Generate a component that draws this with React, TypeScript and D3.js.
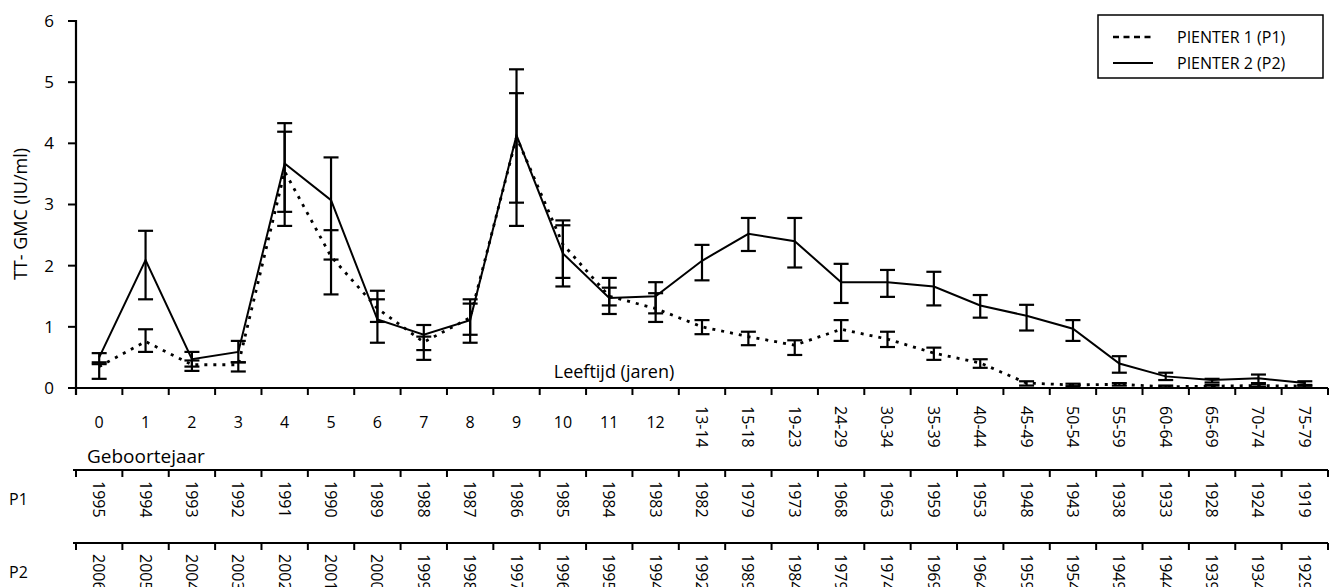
import * as d3 from 'd3';

// Leeftijdsgroepen (x-as)
const ageLabels = ["0", "1", "2", "3", "4", "5", "6", "7", "8", "9", "10", "11", "12",
    "13-14", "15-18", "19-23", "24-29", "30-34", "35-39", "40-44", "45-49",
    "50-54", "55-59", "60-64", "65-69", "70-74", "75-79"];

// Geboortejaar per rij
const birthP1 = [1995, 1994, 1993, 1992, 1991, 1990, 1989, 1988, 1987, 1986, 1985, 1984, 1983,
    1982, 1979, 1973, 1968, 1963, 1959, 1953, 1948, 1943, 1938, 1933, 1928, 1924, 1919];
const birthP2 = [2006, 2005, 2004, 2003, 2002, 2001, 2000, 1999, 1998, 1997, 1996, 1995, 1994,
    1992, 1989, 1984, 1979, 1974, 1969, 1964, 1959, 1954, 1949, 1944, 1939, 1934, 1929];

// PIENTER 1: GMC en betrouwbaarheidsinterval
const p1Gmc = [0.35, 0.76, 0.38, 0.38, 3.54, 2.15, 1.3, 0.75, 1.15, 4.1, 2.35, 1.5, 1.3,
    1.0, 0.84, 0.7, 0.96, 0.8, 0.57, 0.41, 0.08, 0.05, 0.06, 0.02, 0.03, 0.04, 0.03];
const p1Low = [0.15, 0.59, 0.28, 0.27, 2.88, 1.53, 1.08, 0.62, 0.87, 3.03, 1.8, 1.35, 1.08,
    0.88, 0.7, 0.54, 0.77, 0.67, 0.46, 0.33, 0.04, 0.03, 0.04, 0.01, 0.01, 0.02, 0.01];
const p1High = [0.42, 0.96, 0.45, 0.42, 4.19, 2.58, 1.45, 0.84, 1.38, 4.82, 2.66, 1.64, 1.55,
    1.11, 0.92, 0.78, 1.11, 0.92, 0.66, 0.47, 0.11, 0.07, 0.08, 0.04, 0.05, 0.06, 0.05];

// PIENTER 2
const p2Gmc = [0.5, 2.09, 0.47, 0.59, 3.67, 3.07, 1.12, 0.87, 1.11, 4.13, 2.2, 1.47, 1.5,
    2.08, 2.52, 2.4, 1.73, 1.73, 1.66, 1.35, 1.18, 0.97, 0.4, 0.19, 0.13, 0.16, 0.08];
const p2Low = [0.39, 1.45, 0.35, 0.42, 2.65, 2.1, 0.74, 0.46, 0.74, 2.65, 1.66, 1.21, 1.22,
    1.76, 2.24, 1.97, 1.39, 1.49, 1.35, 1.15, 0.94, 0.77, 0.25, 0.13, 0.09, 0.08, 0.04];
const p2High = [0.57, 2.57, 0.59, 0.77, 4.33, 3.77, 1.59, 1.03, 1.45, 5.21, 2.74, 1.8, 1.73,
    2.34, 2.78, 2.78, 2.03, 1.93, 1.9, 1.52, 1.36, 1.11, 0.52, 0.25, 0.15, 0.22, 0.11];

const yTicks = [0, 1, 2, 3, 4, 5, 6];

const FONT = "'Open Sans', 'DejaVu Sans', sans-serif";

function App() {
    const width = 1333;
    const height = 587;
    const left = 76;
    const right = 1328;
    const axisY = 388;
    const row1Y = 470;
    const row2Y = 543;

    const x = d3.scaleBand<string>()
        .domain(ageLabels)
        .range([left, right])
        .padding(0);

    const y = d3.scaleLinear()
        .domain([0, 6])
        .range([axisY, 21]);

    const cx = (i: number) => (x(ageLabels[i]) as number) + x.bandwidth() / 2;

    const line = d3.line<number>()
        .x((d, i) => cx(i))
        .y(d => y(d));

    const boundaries = ageLabels.map(a => x(a) as number).concat([right]);

    const errorBars = (low: number[], high: number[], key: string) => low.map((lo, i) => {
        const hi = high[i];
        const xc = cx(i);
        return (
            <g key={key + i}>
                <line x1={xc} x2={xc} y1={y(lo)} y2={y(hi)} stroke="#000" strokeWidth={2.2} />
                <line x1={xc - 7.5} x2={xc + 7.5} y1={y(lo)} y2={y(lo)} stroke="#000" strokeWidth={2.2} />
                <line x1={xc - 7.5} x2={xc + 7.5} y1={y(hi)} y2={y(hi)} stroke="#000" strokeWidth={2.2} />
            </g>
        );
    });

    const yearRow = (years: number[], rowY: number, key: string) => (
        <g key={key}>
            <line x1={73} x2={right} y1={rowY} y2={rowY} stroke="#000" strokeWidth={2.2} />
            {boundaries.map((b, i) => (
                <line key={key + "t" + i} x1={b} x2={b} y1={rowY} y2={rowY + 7} stroke="#000" strokeWidth={2} />
            ))}
            {years.map((yr, i) => (
                <text key={key + "l" + i}
                    transform={`translate(${cx(i) - 6},${rowY + 11}) rotate(90)`}
                    fontSize={16} fontFamily={FONT} fill="#000">{yr}</text>
            ))}
        </g>
    );

    return (
        <svg width={width} height={height} style={{ position: 'absolute', left: 0, top: 0, background: '#fff' }}>
            {/* y-as */}
            <line x1={left} x2={left} y1={20} y2={axisY + 7} stroke="#000" strokeWidth={2.2} />
            {yTicks.map(t => (
                <g key={"yt" + t}>
                    <line x1={68} x2={left} y1={y(t)} y2={y(t)} stroke="#000" strokeWidth={2} />
                    <text x={49} y={y(t)} dy="0.35em" textAnchor="middle" fontSize={17}
                        fontFamily={FONT} fill="#000">{t}</text>
                </g>
            ))}
            <text transform={`translate(27,${214}) rotate(-90)`} textAnchor="middle" fontSize={18}
                fontFamily={FONT} fill="#000">TT- GMC (IU/ml)</text>

            {/* x-as leeftijd */}
            <line x1={68} x2={right} y1={axisY} y2={axisY} stroke="#000" strokeWidth={2.2} />
            {boundaries.map((b, i) => (
                <line key={"xt" + i} x1={b} x2={b} y1={axisY} y2={axisY + 7} stroke="#000" strokeWidth={2} />
            ))}
            {ageLabels.map((a, i) => i <= 12 ? (
                <text key={"xl" + i} x={cx(i)} y={422} dy="0.35em" textAnchor="middle" fontSize={16}
                    fontFamily={FONT} fill="#000">{a}</text>
            ) : (
                <text key={"xl" + i} transform={`translate(${cx(i) - 6},${406}) rotate(90)`}
                    fontSize={16} fontFamily={FONT} fill="#000">{a}</text>
            ))}
            <text x={614} y={378} textAnchor="middle" fontSize={18} fontFamily={FONT} fill="#000">Leeftijd (jaren)</text>
            <text x={87} y={463} fontSize={19} fontFamily={FONT} fill="#000">Geboortejaar</text>

            {/* geboortejaar rijen */}
            {yearRow(birthP1, row1Y, "r1")}
            {yearRow(birthP2, row2Y, "r2")}
            <text x={9} y={505} fontSize={16} fontFamily={FONT} fill="#000">P1</text>
            <text x={9} y={578} fontSize={16} fontFamily={FONT} fill="#000">P2</text>

            {/* reeksen */}
            {errorBars(p1Low, p1High, "e1")}
            {errorBars(p2Low, p2High, "e2")}
            <path d={line(p1Gmc) as string} fill="none" stroke="#000" strokeWidth={2.8} strokeDasharray="3,6" />
            <path d={line(p2Gmc) as string} fill="none" stroke="#000" strokeWidth={2} />

            {/* legenda */}
            <rect x={1098} y={15} width={225} height={63} fill="#fff" stroke="#000" strokeWidth={1.5} />
            <line x1={1113} x2={1153} y1={37} y2={37} stroke="#000" strokeWidth={2.5} strokeDasharray="6,4.5" />
            <text x={1177} y={37} dy="0.35em" fontSize={16} fontFamily={FONT} fill="#000">PIENTER 1 (P1)</text>
            <line x1={1113} x2={1153} y1={63} y2={63} stroke="#000" strokeWidth={2} />
            <text x={1177} y={63} dy="0.35em" fontSize={16} fontFamily={FONT} fill="#000">PIENTER 2 (P2)</text>
        </svg>
    );
}

export default App;
